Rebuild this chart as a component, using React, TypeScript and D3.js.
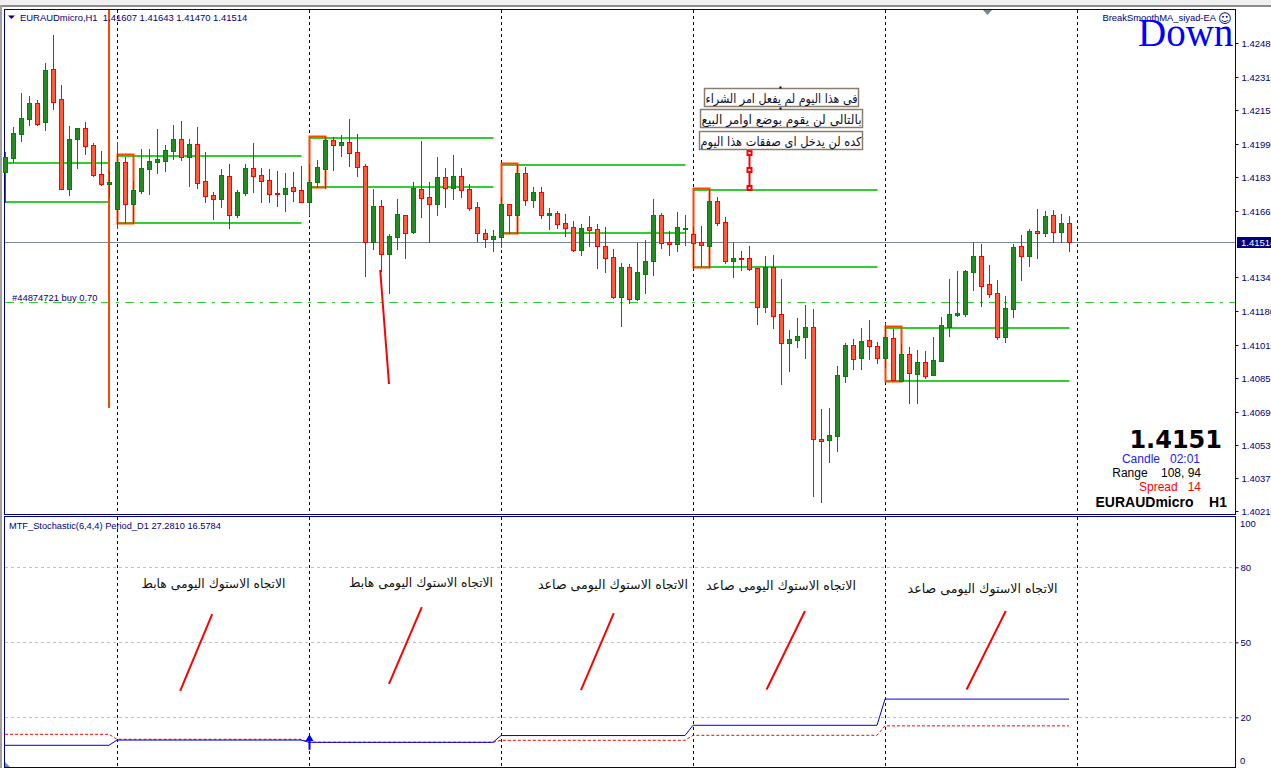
import React, { useEffect, useRef } from "react";
import * as d3 from "d3";

// H1 candles, in points above 1.40000 (oldest first)
const highs = [
  1952, 2073, 2238, 2223, 2204, 2383, 2519, 2277, 2078, 2068, 2097, 1995, 1957, 1865, 2000, 1928, 1811, 1966, 1966, 2063,
  1986, 2083, 2102, 2015, 2073, 1952, 1758, 1869, 1894, 1768, 1894, 1995, 1874, 1869, 1860, 1850, 1855, 1884, 1894, 1913,
  2025, 2025, 2034, 2112, 2039, 1894, 1772, 1719, 1554, 1724, 1646, 1806, 2005, 1806, 1928, 1874, 1937, 1874, 1797, 1709,
  1578, 1574, 1734, 1700, 1889, 1879, 1782, 1782, 1680, 1666, 1651, 1617, 1603, 1641, 1603, 1588, 1481, 1413, 1409, 1511,
  1525, 1724, 1656, 1569, 1661, 1646, 1588, 1593, 1768, 1734, 1636, 1515, 1472, 1496, 1389, 1447, 1452, 1336, 1089, 1147,
  1210, 1190, 705, 710, 914, 1025, 1045, 1098, 1137, 1030, 1122, 1093, 1021, 1006, 992, 987, 1055, 1152, 1336, 1375,
  1379, 1515, 1506, 1404, 1331, 1253, 1506, 1549, 1578, 1675, 1666, 1670, 1651, 1643,
];
const opens = [
  1855, 1923, 2039, 2112, 2189, 2097, 2354, 2209, 1772, 2015, 2068, 1986, 1845, 1797, 1675, 1903, 1700, 1763, 1869, 1903,
  1908, 1957, 2015, 1928, 1991, 1811, 1743, 1724, 1835, 1646, 1753, 1874, 1840, 1816, 1753, 1748, 1782, 1768, 1709, 1806,
  1869, 2010, 1986, 2000, 1952, 1884, 1515, 1690, 1457, 1539, 1646, 1564, 1772, 1734, 1700, 1831, 1777, 1835, 1772, 1685,
  1559, 1530, 1539, 1700, 1646, 1850, 1719, 1758, 1646, 1656, 1607, 1588, 1476, 1588, 1578, 1496, 1443, 1248, 1394, 1239,
  1360, 1423, 1646, 1515, 1506, 1578, 1554, 1515, 1496, 1714, 1612, 1423, 1438, 1438, 1389, 1200, 1394, 1166, 1025, 1040,
  1055, 1103, 560, 555, 574, 865, 1016, 953, 1040, 1011, 953, 1050, 841, 972, 875, 933, 870, 938, 1103, 1162,
  1166, 1370, 1447, 1311, 1268, 1055, 1190, 1496, 1447, 1569, 1559, 1646, 1564, 1607,
];
const closes = [
  1928, 2044, 2117, 2189, 2088, 2350, 2194, 1772, 2015, 2068, 1981, 1840, 1797, 1806, 1903, 1700, 1768, 1874, 1908, 1918,
  1961, 2015, 1928, 1991, 1801, 1738, 1724, 1840, 1646, 1758, 1874, 1835, 1811, 1748, 1748, 1777, 1763, 1709, 1806, 1879,
  2010, 1986, 2000, 1947, 1879, 1515, 1690, 1457, 1544, 1651, 1559, 1777, 1729, 1700, 1831, 1777, 1835, 1768, 1680, 1559,
  1530, 1544, 1700, 1646, 1850, 1719, 1758, 1646, 1656, 1603, 1583, 1476, 1583, 1574, 1496, 1438, 1248, 1394, 1239, 1370,
  1423, 1646, 1511, 1506, 1588, 1583, 1511, 1501, 1714, 1607, 1423, 1438, 1433, 1384, 1200, 1394, 1157, 1025, 1045, 1059,
  1103, 560, 550, 579, 870, 1016, 948, 1035, 1011, 953, 1055, 846, 972, 880, 933, 865, 943, 1113, 1166, 1171,
  1375, 1447, 1302, 1263, 1055, 1195, 1491, 1447, 1569, 1559, 1641, 1564, 1607, 1514,
];
const lows = [
  1709, 1903, 2005, 2083, 2083, 2058, 2160, 1772, 1743, 1874, 1942, 1835, 1792, 1734, 1583, 1607, 1607, 1753, 1748, 1850,
  1860, 1918, 1913, 1787, 1777, 1709, 1627, 1685, 1583, 1636, 1743, 1758, 1709, 1709, 1690, 1666, 1714, 1709, 1646, 1782,
  1777, 1865, 1932, 1884, 1835, 1350, 1481, 1375, 1268, 1481, 1438, 1559, 1636, 1515, 1646, 1685, 1724, 1734, 1670, 1520,
  1491, 1472, 1491, 1559, 1559, 1695, 1685, 1632, 1578, 1583, 1544, 1472, 1452, 1496, 1389, 1370, 1244, 1108, 1220, 1234,
  1268, 1355, 1486, 1452, 1472, 1501, 1389, 1399, 1394, 1598, 1413, 1345, 1379, 1379, 1117, 1176, 1098, 826, 890, 1006,
  953, 283, 254, 448, 502, 836, 899, 899, 948, 928, 909, 846, 841, 734, 734, 856, 870, 938, 1059, 1157,
  1157, 1282, 1205, 1248, 1045, 1030, 1152, 1331, 1399, 1438, 1544, 1515, 1515, 1470,
];

// daily sessions: first candle of each day, breakout levels in points
const dayStarts = [0, 14, 38, 62, 86, 110];
const dayEnds = [13, 37, 61, 85, 109, 133];
const dayHighs = [1898, 1934, 2021, 1889, 1769, 1100];
const dayLows = [1709, 1607, 1782, 1559, 1394, 841];

// MTF stochastic per day
const stochMain = [8.8, 10.9, 10.0, 12.7, 16.8, 27.281];
const stochSignal = [13.2, 11.2, 10.0, 10.8, 12.8, 16.5784];

const priceTicks = [
  1.4248, 1.42315, 1.42155, 1.4199, 1.4183, 1.41665, 1.41345, 1.4118, 1.41015, 1.40855, 1.4069, 1.4053, 1.4037, 1.4021,
];
const stochLevels = [80, 50, 20];

const lastPrice = 1.41514;
const buyPrice = 1.41224;

// hand-drawn objects
const vLineBar = 13;
const vLineEnd = 710; // points
const mainSlash = { from: [46.9, 1379], to: [48, 826] };
const noTradeBar = 93;
const noTradeLevels = [1777, 1865, 1947]; // points
const slashStarts = [
  [21.9, 30.6],
  [48, 33.4],
  [72, 30.9],
  [95.2, 31.1],
  [120.2, 31.1],
];
const slashEnds = [
  [25.9, 61.3],
  [52.1, 64.1],
  [76.1, 61.7],
  [100, 62.5],
  [125.1, 62.5],
];

const trendLabels = [
  "الاتجاه الاستوك اليومى هابط",
  "الاتجاه الاستوك اليومى هابط",
  "الاتجاه الاستوك اليومى صاعد",
  "الاتجاه الاستوك اليومى صاعد",
  "الاتجاه الاستوك اليومى صاعد",
];
const trendLabelBars = [26.06, 52, 76, 97, 122.2];
const trendLabelLevels = [73.6, 74.1, 73.3, 72.9, 71.7];

const noteLines = ["فى هذا اليوم لم يفعل امر الشراء", "بالتالى لن يقوم بوضع اوامر البيع", "كده لن يدخل اى صفقات هذا اليوم"];

const NAVY = "#000080";
const LIME = "#32CD32";
const ORANGE = "#FF4500";
const SANS = "'Liberation Sans', Arial, sans-serif";

const toPrice = (pts: number) => 1.4 + pts / 100000;

export default function App() {
  const ref = useRef<SVGSVGElement>(null);

  useEffect(() => {
    const svg = d3.select(ref.current);
    svg.selectAll("*").remove();

    const x = d3.scaleLinear().domain([0, 133]).range([5, 1069]);
    const y = d3.scaleLinear().domain([1.4021, 1.4248]).range([511, 43]);
    const ys = d3.scaleLinear().domain([0, 100]).range([767.3, 517.3]);
    const py = (p: number) => Math.round(y(p));

    // window chrome
    svg.append("rect").attr("width", 1271).attr("height", 768).attr("fill", "#fff");
    svg.append("rect").attr("width", 1271).attr("height", 5).attr("fill", "#f0f0f0");
    svg.append("rect").attr("y", 5).attr("width", 1271).attr("height", 2).attr("fill", "#8c8c8c");
    svg.append("rect").attr("width", 2).attr("y", 5).attr("height", 763).attr("fill", "#a0a0a0");
    for (const [top, h] of [[9.5, 505], [516.5, 251]]) {
      svg.append("rect").attr("x", 4.5).attr("y", top).attr("width", 1231).attr("height", h)
        .attr("fill", "none").attr("stroke", NAVY);
    }

    // period separators
    const seps = svg.append("g").attr("stroke", NAVY).attr("stroke-dasharray", "3,3");
    [...dayStarts.slice(1), 134].forEach((d) => {
      const sx = x(d) + 0.5;
      seps.append("line").attr("x1", sx).attr("x2", sx).attr("y1", 10).attr("y2", 514);
      seps.append("line").attr("x1", sx).attr("x2", sx).attr("y1", 517).attr("y2", 767);
    });

    // level lines and first three candle boxes
    const levels = svg.append("g");
    dayStarts.forEach((start, i) => {
      const x1 = x(start);
      const x2 = x(dayEnds[i]);
      [dayHighs[i], dayLows[i]].forEach((lv) => {
        levels.append("rect").attr("x", x1).attr("width", x2 - x1 + 0.5).attr("y", py(toPrice(lv)) - 1).attr("height", 2).attr("fill", LIME);
      });
      if (i > 0) {
        levels.append("rect").attr("x", x1 + 0.5).attr("width", x(start + 2) - x1)
          .attr("y", py(toPrice(dayHighs[i])) - 1.5)
          .attr("height", py(toPrice(dayLows[i])) - py(toPrice(dayHighs[i])) + 2)
          .attr("fill", "none").attr("stroke", ORANGE).attr("stroke-width", 2);
      }
    });

    // price and order lines
    svg.append("line").attr("x1", 5).attr("x2", 1235).attr("y1", py(lastPrice) + 0.5).attr("y2", py(lastPrice) + 0.5).attr("stroke", "#778899");
    svg.append("line").attr("x1", 5).attr("x2", 1235).attr("y1", py(buyPrice) + 0.5).attr("y2", py(buyPrice) + 0.5)
      .attr("stroke", LIME).attr("stroke-dasharray", "9,6,3,6");
    svg.append("text").attr("x", 12).attr("y", 301).attr("font-family", SANS).attr("font-size", 9.4).attr("fill", NAVY).text("#44874721 buy 0.70");

    // drawn objects
    svg.append("line").attr("x1", x(vLineBar)).attr("x2", x(vLineBar)).attr("y1", 10).attr("y2", y(toPrice(vLineEnd)))
      .attr("stroke", ORANGE).attr("stroke-width", 2);
    svg.append("line")
      .attr("x1", x(mainSlash.from[0])).attr("y1", y(toPrice(mainSlash.from[1])))
      .attr("x2", x(mainSlash.to[0])).attr("y2", y(toPrice(mainSlash.to[1])))
      .attr("stroke", "#f00").attr("stroke-width", 2);

    // candles
    const candles = svg.append("g");
    opens.forEach((o, i) => {
      const c = closes[i];
      const up = c >= o;
      const cx = x(i) + 0.5;
      const edge = up ? "#0B7D0B" : "#FF0000";
      candles.append("line").attr("x1", cx).attr("x2", cx).attr("y1", py(toPrice(highs[i])))
        .attr("y2", py(toPrice(lows[i])) + 1).attr("stroke", edge);
      const top = py(toPrice(Math.max(o, c)));
      const bot = py(toPrice(Math.min(o, c)));
      candles.append("rect").attr("x", cx - 2).attr("width", 4).attr("y", top + 0.5).attr("height", Math.max(bot - top, 1))
        .attr("fill", up ? "#228B22" : "#FF5A3C").attr("stroke", edge);
    });

    // no trade note
    const nx = x(noTradeBar) + 0.5;
    const nys = noTradeLevels.map((l) => py(toPrice(l)));
    svg.append("line").attr("x1", nx).attr("x2", nx).attr("y1", nys[2]).attr("y2", nys[0]).attr("stroke", "#f00").attr("stroke-width", 2);
    nys.forEach((ny) => {
      svg.append("rect").attr("x", nx - 2).attr("y", ny - 2).attr("width", 4).attr("height", 4)
        .attr("fill", "#fff").attr("stroke", "#f00").attr("stroke-width", 2);
    });
    const boxes = [[704.5, 154, 88.5], [700.5, 162, 109.5], [699.5, 163, 131.5]];
    noteLines.forEach((t, i) => {
      const [bx, bw, by] = boxes[i];
      svg.append("rect").attr("x", bx).attr("y", by).attr("width", bw).attr("height", 18)
        .attr("fill", "#fff").attr("stroke", "#8B7D6B").attr("stroke-width", 1.5);
      svg.append("text").attr("x", bx + bw / 2).attr("y", by + 14).attr("text-anchor", "middle").attr("direction", "rtl")
        .attr("font-family", "'DejaVu Sans', sans-serif").attr("font-size", 12.5).attr("fill", "#101030")
        .attr("textLength", bw - 2).attr("lengthAdjust", "spacingAndGlyphs").text(t);
      if (i < 2) svg.append("rect").attr("x", 779.5).attr("y", by - 2).attr("width", 2).attr("height", 2).attr("fill", "#000");
    });

    // sub window levels
    stochLevels.forEach((lv) => {
      svg.append("line").attr("x1", 5).attr("x2", 1235).attr("y1", Math.round(ys(lv)) + 0.5).attr("y2", Math.round(ys(lv)) + 0.5)
        .attr("stroke", "#C0C0C0").attr("stroke-dasharray", "3,3");
    });

    // stochastic lines, one flat run per day with a one candle ramp
    const line = d3.line<[number, number]>().x((d) => x(d[0])).y((d) => ys(d[1]));
    const dayPath = (vals: number[]) =>
      dayStarts.flatMap((s, i) => [[s, vals[i]], [dayEnds[i], vals[i]]] as [number, number][]);
    svg.append("path").attr("d", line(dayPath(stochSignal))).attr("fill", "none").attr("stroke", "#f00").attr("stroke-dasharray", "3,2");
    svg.append("path").attr("d", line(dayPath(stochMain))).attr("fill", "none").attr("stroke", "#0000E0");

    // arrow on the stochastic line
    const ax = x(dayStarts[2]) + 0.5;
    svg.append("path").attr("d", d3.symbol(d3.symbolTriangle, 28)()).attr("transform", `translate(${ax},${ys(11.4)})`).attr("fill", "#0000FF");
    svg.append("line").attr("x1", ax).attr("x2", ax).attr("y1", ys(11)).attr("y2", ys(7)).attr("stroke", "#0000FF").attr("stroke-width", 2);

    // trend slashes and labels
    slashStarts.forEach((s, i) => {
      svg.append("line").attr("x1", x(s[0])).attr("y1", ys(s[1])).attr("x2", x(slashEnds[i][0])).attr("y2", ys(slashEnds[i][1]))
        .attr("stroke", "#f00").attr("stroke-width", 2);
    });
    trendLabels.forEach((t, i) => {
      svg.append("text").attr("x", x(trendLabelBars[i])).attr("y", ys(trendLabelLevels[i]) + 5).attr("text-anchor", "middle").attr("direction", "rtl")
        .attr("font-family", "'DejaVu Sans', sans-serif").attr("font-size", 12.5).attr("fill", "#101010")
        .attr("textLength", i > 1 ? 150 : 144).attr("lengthAdjust", "spacingAndGlyphs").text(t);
    });

    // right hand axes
    const axisPrice = d3.axisRight(y).tickValues(priceTicks).tickSize(3).tickPadding(3).tickFormat((d) => d3.format(".5f")(d as number));
    const gp = svg.append("g").attr("transform", "translate(1235.5,0)").call(axisPrice as any);
    const axisStoch = d3.axisRight(ys).tickValues(stochLevels).tickSize(3).tickPadding(2).tickFormat((d) => String(d));
    const gs = svg.append("g").attr("transform", "translate(1235.5,0)").call(axisStoch as any);
    [gp, gs].forEach((g) => {
      g.select(".domain").remove();
      g.selectAll("line").attr("stroke", NAVY);
      g.selectAll("text").attr("fill", NAVY).attr("font-family", SANS).attr("font-size", 9.5);
    });
    [["100", 527], ["0", 764]].forEach(([t, ty]) => {
      svg.append("text").attr("x", 1240).attr("y", ty).attr("fill", NAVY).attr("font-family", SANS).attr("font-size", 9.5).text(t);
    });
    svg.append("rect").attr("x", 1237).attr("y", py(lastPrice) - 5).attr("width", 34).attr("height", 11).attr("fill", NAVY);
    svg.append("text").attr("x", 1241).attr("y", py(lastPrice) + 4).attr("fill", "#fff").attr("font-family", SANS).attr("font-size", 9.5).text(lastPrice.toFixed(5));

    // header text
    svg.append("path").attr("d", "M8,15.5H15L11.5,19Z").attr("fill", NAVY);
    svg.append("text").attr("x", 20).attr("y", 21).attr("font-family", SANS).attr("font-size", 9.45).attr("fill", NAVY).style("white-space", "pre")
      .text(`EURAUDmicro,H1  ${[opens[133], highs[133], lows[133], closes[133]].map((p) => toPrice(p).toFixed(5)).join(" ")}`);
    svg.append("text").attr("x", 9).attr("y", 529).attr("font-family", SANS).attr("font-size", 9.25).attr("fill", NAVY)
      .text(`MTF_Stochastic(6,4,4) Period_D1 ${stochMain[5].toFixed(4)} ${stochSignal[5].toFixed(4)}`);
    svg.append("text").attr("x", 1216).attr("y", 21).attr("text-anchor", "end").attr("font-family", SANS).attr("font-size", 9.4).attr("fill", NAVY).text("BreakSmoothMA_siyad-EA");
    svg.append("text").attr("x", 1218).attr("y", 23).attr("font-family", "'DejaVu Sans'").attr("font-size", 13).attr("fill", NAVY).text("☺");
    svg.append("text").attr("x", 1138).attr("y", 46).attr("font-family", "'Liberation Serif', serif").attr("font-size", 39).attr("fill", "#0000FF").text("Down");
    svg.append("path").attr("d", "M983,10H992L987.5,15Z").attr("fill", "#778899");
    svg.append("path").attr("d", "M5,767V762L10,767Z").attr("fill", "#778899");

    // price box
    const info: [string, number, number, number, string, string, string][] = [
      [lastPrice.toFixed(4), 1222, 448, 24, "#000", "bold", "'DejaVu Sans'"],
      ["Candle   02:01", 1200, 463, 12, "#2020FF", "normal", SANS],
      ["Range    108, 94", 1201, 477, 12, "#000", "normal", SANS],
      ["Spread   14", 1201, 491, 12, "#FF0000", "normal", SANS],
      ["EURAUDmicro    H1", 1227, 507, 14, "#000", "bold", SANS],
    ];
    info.forEach(([t, ix, iy, fs, col, w, fam]) => {
      svg.append("text").attr("x", ix).attr("y", iy).attr("text-anchor", "end").attr("font-size", fs).attr("fill", col)
        .attr("font-weight", w).attr("font-family", fam).style("white-space", "pre").text(t);
    });
  }, []);

  return <svg ref={ref} width={1271} height={768} style={{ position: "absolute", left: 0, top: 0 }}></svg>;
}
